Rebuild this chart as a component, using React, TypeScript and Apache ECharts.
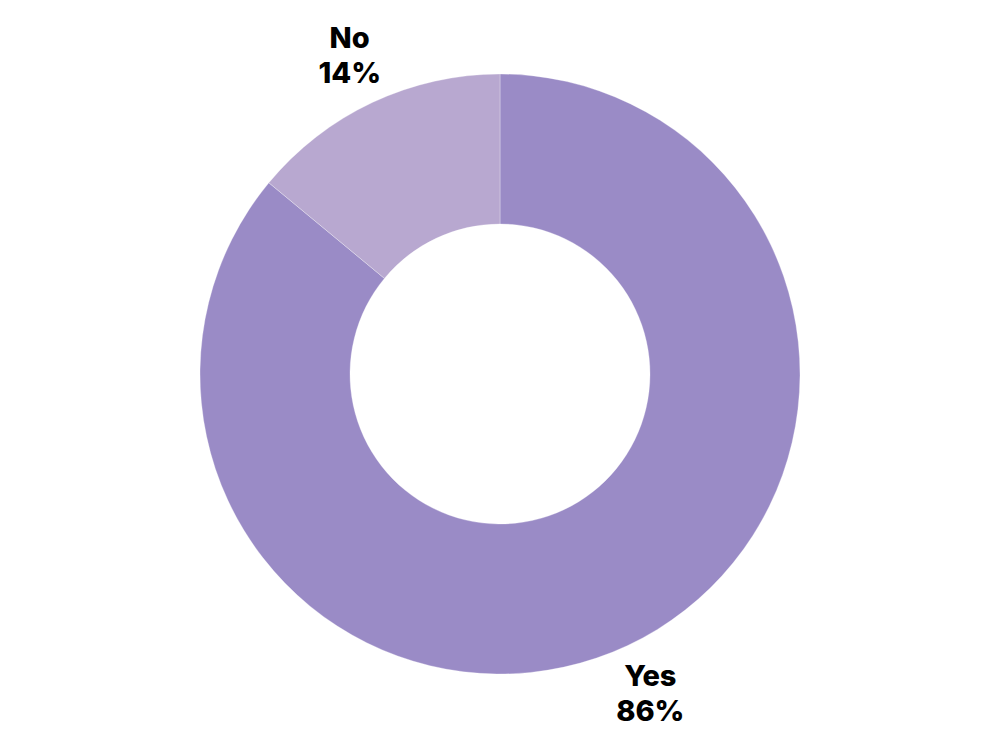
import React, { useEffect, useRef } from "react";
import * as echarts from "echarts";

const categories = ["Yes", "No"];
const values = [86, 14];
const colors = ["#9a8bc6", "#b8a8d0"];

export default function App() {
  const ref = useRef<HTMLDivElement>(null);
  useEffect(() => {
    if (!ref.current) return;
    const chart = echarts.init(ref.current, null, { renderer: "svg" });
    const data = categories.map((name, i) => ({
      name,
      value: values[i],
      itemStyle: { color: colors[i] },
    }));
    chart.setOption({
      animation: false,
      backgroundColor: "#ffffff",
      series: [
        {
          type: "pie",
          center: [500, 374],
          radius: [150, 300],
          startAngle: 90,
          clockwise: true,
          data,
          itemStyle: { borderColor: "#ffffff", borderWidth: 0.3 },
          label: { show: false },
          labelLine: { show: false },
          silent: true,
        },
        {
          type: "pie",
          center: [500, 374],
          radius: [348, 352],
          startAngle: 90,
          clockwise: true,
          data: categories.map((name, i) => ({
            name,
            value: values[i],
            itemStyle: { color: "rgba(0,0,0,0)" },
          })),
          silent: true,
          label: {
            show: true,
            position: "inside",
            formatter: "{b}\n{d}%",
            color: "#000000",
            fontFamily: "Inter, 'Open Sans', sans-serif",
            fontWeight: 800,
            fontSize: 29,
            lineHeight: 35,
            align: "center",
            verticalAlign: "middle",
          },
          labelLine: { show: false },
        },
      ],
    });
    return () => chart.dispose();
  }, []);
  return (
    <div
      ref={ref}
      style={{ position: "fixed", left: 0, top: 0, width: 1000, height: 750 }}
    />
  );
}
